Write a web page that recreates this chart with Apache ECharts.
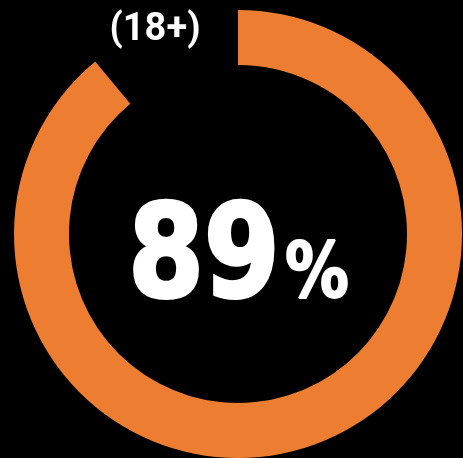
<!DOCTYPE html>
<html>
<head>
<meta charset="utf-8">
<style>
html,body{margin:0;padding:0;background:#000;}
#chart{width:463px;height:458px;}
</style>
<script src="https://cdn.jsdelivr.net/npm/echarts@6/dist/echarts.min.js"></script>
</head>
<body>
<div id="chart"></div>
<script>
const categories = ['Yes', 'Other'];
const values = [89, 11];
const mainLabel = '89';
const unitLabel = '%';
const subLabel = '(18+)';

const chart = echarts.init(document.getElementById('chart'), null, {renderer: 'canvas'});
chart.setOption({
  backgroundColor: '#000000',
  animation: false,
  series: [{
    type: 'pie',
    silent: true,
    center: [238, 234],
    radius: [169, 224],
    startAngle: 90,
    clockwise: true,
    label: {show: false},
    labelLine: {show: false},
    data: categories.map((c, i) => ({
      name: c,
      value: values[i],
      itemStyle: {color: i === 0 ? '#ED7D31' : 'rgba(0,0,0,0)'}
    }))
  }],
  graphic: [
    {
      type: 'text', x: 204, y: 263, scaleX: 0.85,
      style: {text: mainLabel, fill: '#fff', stroke: '#fff', lineWidth: 4, font: 'bold 128px "DejaVu Sans"', align: 'center', verticalAlign: 'middle'}
    },
    {
      type: 'text', x: 285, y: 277, scaleX: 0.84,
      style: {text: unitLabel, fill: '#fff', stroke: '#fff', lineWidth: 2, font: 'bold 76px "DejaVu Sans"', align: 'left', verticalAlign: 'middle'}
    },
    {
      type: 'text', x: 155, y: 30,
      style: {text: subLabel, fill: '#fff', font: 'bold 38px Roboto', align: 'center', verticalAlign: 'middle'}
    }
  ]
});
</script>
</body>
</html>
